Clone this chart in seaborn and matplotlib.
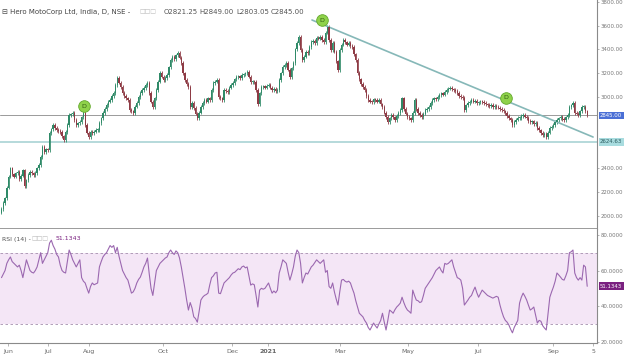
import matplotlib
matplotlib.use("Agg")
import matplotlib.pyplot as plt
import matplotlib.transforms as mtransforms
import numpy as np
import pandas as pd
import seaborn as sns

# daily closes (one per bar, ~Jun 2020 -> Sep 2021)
closes = [
    2060, 2110, 2150, 2240, 2330, 2400, 2350, 2330, 2360, 2370,
    2310, 2340, 2385, 2250, 2300, 2345, 2370, 2360, 2345, 2362,
    2400, 2429, 2496, 2580, 2538, 2560, 2555, 2697, 2730, 2765,
    2740, 2723, 2715, 2706, 2670, 2639, 2706, 2765, 2849, 2855,
    2866, 2807, 2765, 2780, 2790, 2830, 2866, 2765, 2700, 2664,
    2706, 2698, 2710, 2723, 2723, 2782, 2820, 2866, 2900, 2933,
    2960, 2975, 3010, 3034, 3100, 3160, 3120, 3084, 3034, 3010,
    2990, 2975, 2891, 2880, 2866, 2920, 2950, 3000, 3034, 3060,
    3076, 3100, 3118, 3034, 2960, 2916, 2990, 3059, 3130, 3202,
    3170, 3143, 3160, 3185, 3250, 3311, 3336, 3320, 3350, 3370,
    3330, 3286, 3200, 3143, 3110, 3084, 2916, 2950, 2908, 2860,
    2824, 2870, 2916, 2950, 2975, 2960, 2990, 2975, 3060, 3118,
    3130, 3143, 3000, 2990, 2975, 3059, 3050, 3042, 3080, 3100,
    3118, 3150, 3168, 3175, 3160, 3185, 3190, 3200, 3210, 3170,
    3126, 3130, 3126, 3060, 2940, 3030, 3084, 3090, 3080, 3095,
    3101, 3080, 3059, 3070, 3050, 3059, 3143, 3200, 3252, 3270,
    3286, 3230, 3168, 3240, 3286, 3400, 3454, 3504, 3395, 3311,
    3340, 3380, 3370, 3420, 3462, 3470, 3450, 3496, 3490, 3504,
    3480, 3462, 3540, 3588, 3480, 3395, 3454, 3380, 3300, 3227,
    3395, 3440, 3479, 3460, 3440, 3454, 3430, 3420, 3360, 3311,
    3202, 3150, 3110, 3084, 3059, 3010, 2975, 2960, 2958, 2980,
    2975, 2960, 2975, 2940, 2916, 2870, 2832, 2790, 2820, 2849,
    2830, 2807, 2840, 2866, 2890, 2990, 2900, 2860, 2832, 2820,
    2807, 2866, 2975, 2900, 2866, 2850, 2832, 2860, 2891, 2900,
    2916, 2950, 2975, 2990, 2980, 3000, 3017, 3030, 3020, 3042,
    3060, 3070, 3076, 3065, 3059, 3050, 3034, 3010, 3000, 2992,
    2891, 2930, 2950, 2960, 2975, 2960, 2970, 2950, 2955, 2965,
    2958, 2950, 2940, 2933, 2925, 2935, 2916, 2925, 2916, 2910,
    2900, 2891, 2880, 2866, 2840, 2820, 2807, 2765, 2790, 2810,
    2824, 2824, 2840, 2849, 2835, 2824, 2800, 2790, 2795, 2770,
    2782, 2740, 2720, 2698, 2681, 2690, 2664, 2700, 2740, 2750,
    2765, 2790, 2807, 2820, 2832, 2815, 2807, 2830, 2849, 2916,
    2930, 2950, 2866, 2860, 2849, 2880, 2916, 2916, 2880, 2845,
]
first_open = 2030

# RSI(14) line
rsi = [
    56, 58, 60, 64, 66, 67.6, 65, 64, 63, 62,
    63, 60, 56, 61, 66, 63, 60, 59, 58.6, 60,
    62, 66, 70, 64, 66, 68, 70, 75.4, 77, 74,
    72, 69, 67.6, 63, 60, 59, 58.6, 65, 71.5, 69,
    66, 64, 62, 64, 66, 56, 54, 53, 50, 47.3,
    51, 53, 52, 52.5, 53, 62, 65, 67.6, 69, 70,
    72, 74, 73, 74, 70, 73, 68, 64, 60, 58,
    56, 54.6, 51, 47.3, 48, 50, 53, 55, 56.3, 59,
    62, 64, 67, 58, 50, 46, 53, 60, 62, 64,
    65, 66, 67, 67.6, 70, 71.5, 70, 69, 71, 70,
    67, 62, 56, 50, 43.4, 37.8, 42, 39, 34, 33,
    31, 37, 43.4, 45, 46, 46.5, 47.3, 52, 56, 57,
    58.6, 59, 47.3, 47, 50, 53, 54, 55, 56, 57.5,
    58.6, 59, 60, 61, 60.5, 62, 62.5, 61.5, 62, 57,
    51.8, 52.5, 52, 46, 39.5, 49, 50, 49.5, 50, 51.5,
    53, 50, 47.3, 48.5, 47.5, 49, 58.6, 62, 66, 65,
    64, 59, 54.6, 58, 62, 68, 71.5, 70, 64, 53,
    56, 58.6, 58, 60, 62, 63, 64.5, 66, 65, 64,
    65, 66, 59, 60, 51, 50, 53, 48, 44, 40.6,
    48, 54.6, 55, 54, 53.5, 54, 53, 50, 47.3, 43,
    39.5, 36, 35, 34, 32, 30.5, 28, 26.6, 28.5, 30.5,
    29, 27.7, 30, 32, 36, 31, 26.6, 32, 37.8, 37,
    36, 38, 39.5, 40.5, 41.7, 45, 42, 39.5, 37.8, 37,
    36, 49, 46, 43.4, 43, 42, 42.5, 46, 50, 51.5,
    53, 54.5, 56, 58, 60, 61, 62, 60, 58.6, 64,
    63.5, 64, 65, 66, 62, 59, 56, 55.5, 54.6, 50,
    40.6, 42, 43.4, 45, 46, 48.5, 50.7, 47.5, 45, 47,
    49, 48, 47, 46, 45.5, 45, 44.5, 45, 45.5, 45,
    40.6, 37, 34, 32, 31, 29.4, 27, 25, 28, 30,
    32, 41.7, 45, 47.3, 45.5, 43.4, 40.5, 37.8, 38.5, 39.5,
    35, 30.5, 32, 31.5, 29, 27.7, 26.6, 36, 45, 48,
    50.7, 54, 58.6, 57.5, 56.3, 55, 54.6, 57, 60, 70,
    70.5, 71.5, 58.6, 56, 54.6, 56, 54.6, 63, 62, 51.1343,
]

last_close = 2845.00
support = 2624.63
trend_bars = [174.4, 332.3]
trend_prices = [3647, 2664]
signal_bars = [46.3, 180.0, 283.4]
signal_prices = [2924, 3647, 2992]

month_pos = [3.6, 26.1, 49.2, 90.7, 129.5, 149.7, 190.2, 228.4, 267.7, 309.8, 332.3]
month_labels = ["Jun", "Jul", "Aug", "Oct", "Dec", "2021", "Mar", "May", "Jul", "Sep", "5"]
price_ticks = [2000, 2200, 2400, 3000, 3200, 3400, 3600, 3800]
rsi_ticks = [20, 40, 60, 80]

UP = "#2f8a68"
DOWN = "#8e3b45"
RSI_C = "#9b68b0"
AXIS_FS = 3.9

sns.set_style("white")
plt.rcParams["font.family"] = ["DejaVu Sans"]

fig = plt.figure(figsize=(6.24, 3.6), dpi=100)
W, H = 624, 360
ax = fig.add_axes([0, 1 - 228.7 / H, 597 / W, 228.7 / H])
ax2 = fig.add_axes([0, 1 - 343 / H, 597 / W, 114 / H], sharex=ax)

df = pd.DataFrame({"close": closes})
df["open"] = df["close"].shift(1).fillna(first_open)
df["bar"] = np.arange(len(df))
lo = df[["open", "close"]].min(axis=1)
hi = df[["open", "close"]].max(axis=1)
cols = np.where(df["close"] >= df["open"], UP, DOWN)

ax.vlines(df["bar"], lo - 14, hi + 14, colors=cols, lw=0.6, zorder=2)
ax.bar(df["bar"], (hi - lo).clip(lower=5), bottom=lo, width=0.75,
       color=cols, lw=0, zorder=3)

ax.axhline(last_close, color="#9a9a9a", lw=0.7, zorder=1)
ax.axhline(support, color="#a9d3d4", lw=1.2, zorder=1)
ax.plot(trend_bars, trend_prices, color="#86b8b8", lw=1.2, zorder=2)

ax.scatter(signal_bars, signal_prices, s=70, color="#8fd24a",
           edgecolor="#63a82c", lw=0.6, zorder=5)
for b, p in zip(signal_bars, signal_prices):
    ax.text(b, p, "D", ha="center", va="center", fontsize=4.5,
            color="#2f5a12", zorder=6)

ax.set_xlim(-0.84, 334.5)
ax.set_ylim(1894, 3815)
ax.yaxis.tick_right()
ax.set_yticks(price_ticks)
ax.set_yticklabels([f"{v:.2f}" for v in price_ticks])
ax.tick_params(axis="y", labelsize=AXIS_FS, labelcolor="#777777", length=1.5,
               width=0.5, color="#999999", pad=1, right=True)
ax.tick_params(axis="x", bottom=False, labelbottom=False)
for s in ["left", "top"]:
    ax.spines[s].set_visible(False)
ax.spines["right"].set_color("#8a8a8a")
ax.spines["right"].set_linewidth(0.8)
ax.spines["bottom"].set_color("#8a8a8a")
ax.spines["bottom"].set_linewidth(1.2)

tr = mtransforms.blended_transform_factory(ax.transAxes, ax.transData)
ax.text(1.005, last_close, "2845.00", transform=tr, fontsize=AXIS_FS,
        color="white", va="center", ha="left", clip_on=False, zorder=10,
        bbox=dict(fc="#4a6fd6", ec="none", pad=1.0))
ax.text(1.005, support, "2624.63", transform=tr, fontsize=AXIS_FS,
        color="#2c5d60", va="center", ha="left", clip_on=False, zorder=10,
        bbox=dict(fc="#a8dcdf", ec="none", pad=1.0))

# RSI panel
ax2.axhspan(30, 70, color="#f4e6f6", zorder=0, lw=0)
for lvl in (30, 70):
    ax2.axhline(lvl, color="#a58fae", lw=0.6, ls=(0, (3, 3)), zorder=1)
rsi_df = pd.DataFrame({"bar": np.arange(len(rsi)), "rsi": rsi})
sns.lineplot(data=rsi_df, x="bar", y="rsi", ax=ax2, color=RSI_C, lw=0.8)
ax2.set_ylim(19.3, 83.3)
ax2.set_xlabel("")
ax2.set_ylabel("")
ax2.yaxis.tick_right()
ax2.set_yticks(rsi_ticks)
ax2.set_yticklabels([f"{v:.4f}" for v in rsi_ticks])
ax2.tick_params(axis="y", labelsize=AXIS_FS, labelcolor="#777777", length=1.5,
                width=0.5, color="#999999", pad=1, right=True)
ax2.set_xticks(month_pos)
ax2.set_xticklabels(month_labels)
ax2.tick_params(axis="x", labelsize=4.5, labelcolor="#666666", length=2,
                width=0.5, color="#999999", pad=2, bottom=True)
for lab in ax2.get_xticklabels():
    if lab.get_text() == "2021":
        lab.set_fontweight("bold")
for s in ["left", "top"]:
    ax2.spines[s].set_visible(False)
for s in ["right", "bottom"]:
    ax2.spines[s].set_color("#8a8a8a")
    ax2.spines[s].set_linewidth(0.8)

tr2 = mtransforms.blended_transform_factory(ax2.transAxes, ax2.transData)
ax2.text(1.005, rsi[-1], f"{rsi[-1]:.4f}", transform=tr2, fontsize=AXIS_FS,
         color="white", va="center", ha="left", clip_on=False, zorder=10,
         bbox=dict(fc="#7a2180", ec="none", pad=1.0))


# header texts
def px(x, y):
    return x / W, 1 - y / H


fig.text(*px(2, 12), "\u229f Hero MotoCorp Ltd, India, D, NSE -", fontsize=5,
         color="#444444", va="center")
fig.text(*px(139, 12), "\u25a1\u25a1\u25a1", fontsize=4.3, color="#bbbbbb", va="center")
for xx, t in zip([164, 199, 236, 271], ["O2821.25", "H2849.00", "L2803.05", "C2845.00"]):
    fig.text(*px(xx, 12), t, fontsize=5, color="#555555", va="center")
fig.text(*px(2, 239), "RSI (14) -", fontsize=4.5, color="#555555", va="center")
fig.text(*px(31, 239), "\u25a1\u25a1\u25a1", fontsize=4.3, color="#bbbbbb", va="center")
fig.text(*px(56, 239), "51.1343", fontsize=4.5, color="#7a2180", va="center")

fig.savefig("out.png", dpi=100)
